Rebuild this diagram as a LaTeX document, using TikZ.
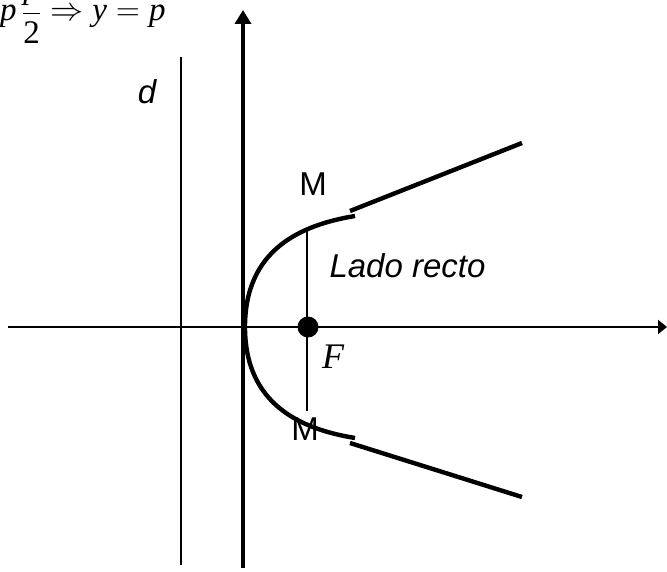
\RequirePackage{fix-cm}
\documentclass[tikz,border=0pt]{standalone}
\usepackage{fontspec}
\setmainfont{Liberation Serif}
\setsansfont{Liberation Sans}
\usetikzlibrary{arrows.meta}
\tikzset{
  lbl/.style={font=\sffamily\fontsize{33}{35}\selectfont},
  axis/.style={line width=2pt},
  curve/.style={line width=4.4pt},
}

\begin{document}
\begin{tikzpicture}[x=1pt, y=-1pt, >=Latex]
    \useasboundingbox (0,0) rectangle (667,572);
    % points of the parabola
    \coordinate (V) at (245,327);
    \coordinate (F) at (308,327);
    \coordinate (Eu) at (355,216);
    \coordinate (El) at (355,438);
    \coordinate (Su) at (350,211);
    \coordinate (Sl) at (350,443);
    \coordinate (Tu) at (522,143);
    \coordinate (Tl) at (522,497);
    \coordinate (Lu) at (307,231);
    \coordinate (Ll) at (307,411);
    \coordinate (xs) at (8,327);
    \coordinate (xe) at (667,327);
    \coordinate (ys) at (243,568);
    \coordinate (ye) at (243,10);
    \coordinate (ds) at (181,565);
    \coordinate (de) at (181,57);
    % axes and directrix
    \draw[axis, -{Triangle[length=9pt, width=14pt]}] (xs) -- (xe);
    \draw[line width=4.4pt, -{Triangle[length=14pt, width=16pt]}] (ys) -- (ye);
    \draw[axis] (ds) -- (de);
    \node[lbl, font=\sffamily\itshape\fontsize{33}{35}\selectfont] (d) at (147,92) {d};
    % parabola
    \draw[curve] (Eu) .. controls (300,225) and (245,250) .. (V)
                 .. controls (245,404) and (300,429) .. (El);
    \draw[curve] (Su) -- (Tu);
    \draw[curve] (Sl) -- (Tl);
    % latus rectum and focus
    \draw[axis] (Lu) -- (Ll);
    \fill (F) circle (10.5pt);
    \node[lbl] (m1) at (313,184) {M};
    \node[lbl] (m2) at (305,429) {M};
    \node[lbl, font=\sffamily\itshape\fontsize{33}{35}\selectfont, anchor=west] (lr) at (326,266) {Lado recto};
    \node[font=\itshape\fontsize{36}{38}\selectfont] (f) at (333,357) {F};
    \node[anchor=base west, inner sep=0pt, font=\fontsize{33}{35}\selectfont] (eq) at (0,21)
      {$\displaystyle\mbox{\itshape p}\,\frac{\mbox{\itshape p}}{\mbox{2}}\Rightarrow\mbox{\itshape y}=\mbox{\itshape p}$};
  \end{tikzpicture}
\end{document}
